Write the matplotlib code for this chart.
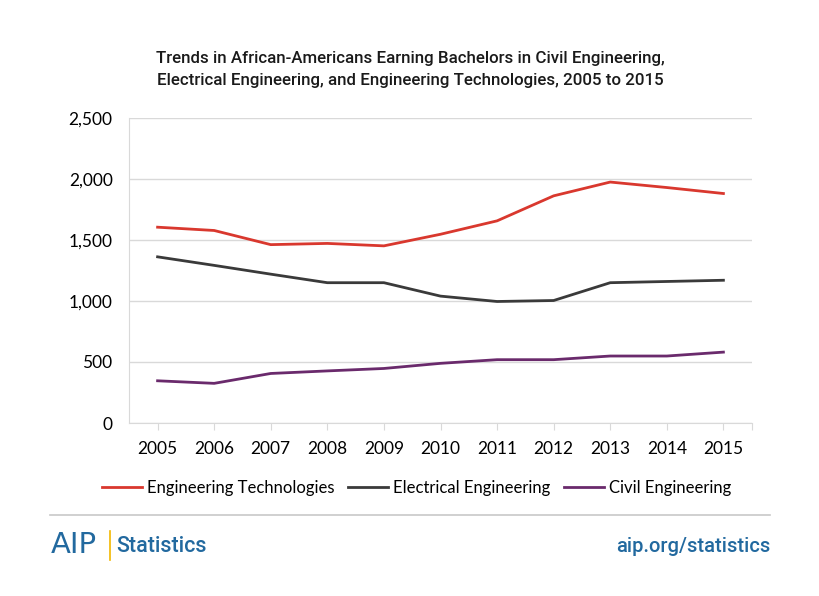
import numpy as np
import matplotlib.pyplot as plt
from matplotlib.lines import Line2D

# Data
years = ['2005', '2006', '2007', '2008', '2009', '2010', '2011', '2012', '2013', '2014', '2015']
eng_tech = [1605, 1578, 1462, 1472, 1452, 1547, 1657, 1862, 1975, 1930, 1881]
electrical = [1362, 1292, 1220, 1150, 1150, 1040, 996, 1004, 1150, 1160, 1170]
civil = [346, 325, 406, 427, 447, 489, 519, 519, 549, 549, 581]

series_names = ['Engineering Technologies', 'Electrical Engineering', 'Civil Engineering']
colors = ['#d9382e', '#3a3a3a', '#6a2a6c']

cond = ['Roboto', 'DejaVu Sans']
body = ['Lato', 'DejaVu Sans']
blue = '#22699f'

fig = plt.figure(figsize=(8.2, 5.96), dpi=100)
ax = fig.add_axes([129.3 / 820, 1 - 423 / 596, (751.7 - 129.3) / 820, (423 - 118) / 596])

x = np.arange(len(years))
for vals, c in zip([eng_tech, electrical, civil], colors):
    ax.plot(x, vals, color=c, lw=2, solid_joinstyle='round')

ax.set_xlim(-0.5, len(years) - 0.5)
ax.set_ylim(0, 2500)
ax.set_yticks(np.arange(0, 2501, 500))
ax.set_yticklabels([f'{v:,}' for v in range(0, 2501, 500)], family=body, fontsize=12.5)
ax.set_xticks(list(x) + [len(years) - 0.5])
ax.set_xticklabels(years + [''], family=body, fontsize=12.5)
ax.grid(axis='y', color='#d9d9d9', lw=1)
ax.set_axisbelow(True)
for s in ['top', 'right']:
    ax.spines[s].set_visible(False)
for s in ['left', 'bottom']:
    ax.spines[s].set_color('#d9d9d9')
ax.tick_params(axis='x', length=5, color='#d9d9d9', pad=8)
ax.tick_params(axis='y', length=0, pad=12)

fig.text(0.5, 1 - 58 / 596, 'Trends in African-Americans Earning Bachelors in Civil Engineering,',
         ha='center', va='center', family=cond, fontsize=12.2, weight='medium', color='#1a1a1a')
fig.text(0.5, 1 - 80 / 596, 'Electrical Engineering, and Engineering Technologies, 2005 to 2015',
         ha='center', va='center', family=cond, fontsize=12.2, weight='medium', color='#1a1a1a')

handles = [Line2D([], [], color=c, lw=2) for c in colors]
fig.legend(handles, series_names, loc='center', bbox_to_anchor=(0.508, 1 - 488 / 596),
           ncol=3, frameon=False, prop={'family': body, 'size': 12},
           handlelength=2.4, handletextpad=0.3, columnspacing=0.8)

# Footer
fig.add_artist(Line2D([50 / 820, 770 / 820], [1 - 515 / 596] * 2, color='#c8c8c8', lw=1.2))
fig.text(51 / 820, 1 - 545 / 596, 'AIP', ha='left', va='center', family=['DejaVu Sans'],
         fontsize=21, color=blue)
fig.add_artist(Line2D([110 / 820] * 2, [1 - 531 / 596, 1 - 560 / 596], color='#f2b700', lw=1.2))
fig.text(116 / 820, 1 - 546 / 596, 'Statistics', ha='left', va='center', family=cond,
         fontsize=15.5, weight='medium', color=blue)
fig.text(770 / 820, 1 - 546 / 596, 'aip.org/statistics', ha='right', va='center', family=cond,
         fontsize=14.5, weight='medium', color=blue)

fig.savefig('out.png', dpi=100)
